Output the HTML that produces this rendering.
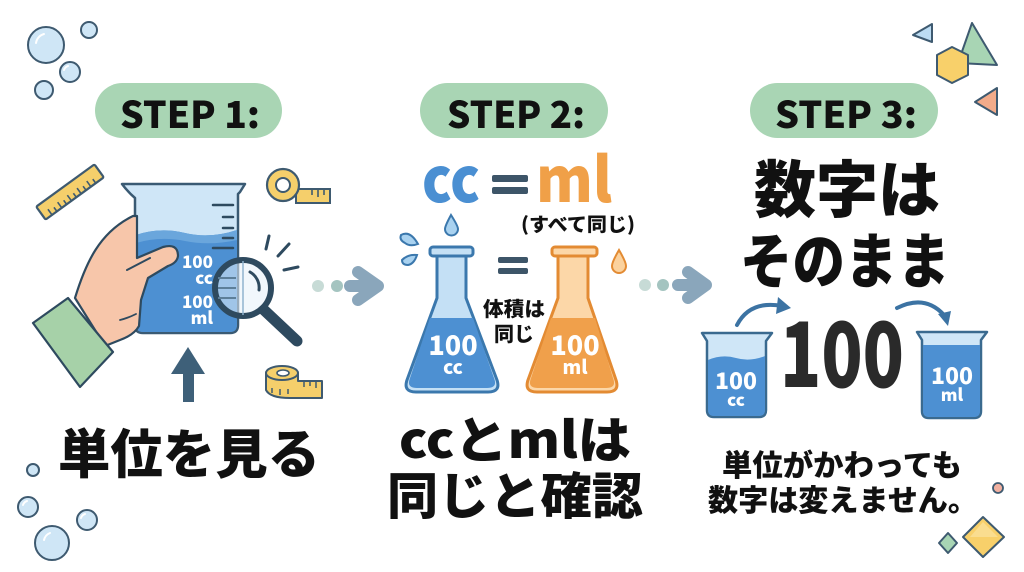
<!DOCTYPE html>
<html><head><meta charset="utf-8">
<style>
html,body{margin:0;padding:0;background:#ffffff;}
body{width:1024px;height:572px;overflow:hidden;}
svg{display:block;}
text{font-family:"Noto Sans CJK JP","Liberation Sans",sans-serif;font-weight:900;}
</style></head>
<body>
<svg width="1024" height="572" viewBox="0 0 1024 572" xmlns="http://www.w3.org/2000/svg">
<rect width="1024" height="572" fill="#ffffff"/>

<!-- bubbles -->
<g stroke="#3e5a70" stroke-width="2" fill="#cfe6f6">
<circle cx="46" cy="45" r="18"/><circle cx="89" cy="30" r="8"/><circle cx="70" cy="72" r="10"/><circle cx="44" cy="90" r="9"/>
<circle cx="33" cy="470" r="6"/><circle cx="28" cy="507" r="10"/><circle cx="87" cy="520" r="10"/><circle cx="52" cy="543" r="17"/>
</g>
<g stroke="#ffffff" stroke-width="2" fill="none" stroke-linecap="round">
<path d="M36,43 A11,11 0 0 1 44,34"/><path d="M44,540 A10,10 0 0 1 50,533"/><path d="M64,70 A6,6 0 0 1 68,66"/><path d="M81,518 A6,6 0 0 1 85,514"/><path d="M23,505 A6,6 0 0 1 27,501"/>
</g>

<!-- STEP pills -->
<rect x="95" y="83" width="187" height="55" rx="27.5" fill="#a9d5b4"/>
<rect x="420" y="83" width="188" height="55" rx="27.5" fill="#a9d5b4"/>
<rect x="750" y="83" width="188" height="55" rx="27.5" fill="#a9d5b4"/>
<text x="190" y="128" font-size="37" text-anchor="middle" fill="#111" textLength="140" lengthAdjust="spacingAndGlyphs">STEP 1:</text>
<text x="516" y="128" font-size="37" text-anchor="middle" fill="#111" textLength="138" lengthAdjust="spacingAndGlyphs">STEP 2:</text>
<text x="846" y="128" font-size="37" text-anchor="middle" fill="#111" textLength="142" lengthAdjust="spacingAndGlyphs">STEP 3:</text>

<!-- ruler -->
<g transform="translate(70,192) rotate(-36)">
<rect x="-36" y="-8" width="72" height="16" fill="#f5cf6b" stroke="#3e5a70" stroke-width="2.2" rx="1.5"/>
<g stroke="#3e5a70" stroke-width="1.6">
<line x1="-28" y1="8" x2="-28" y2="1"/><line x1="-22" y1="8" x2="-22" y2="3"/><line x1="-16" y1="8" x2="-16" y2="1"/><line x1="-10" y1="8" x2="-10" y2="3"/><line x1="-4" y1="8" x2="-4" y2="1"/><line x1="2" y1="8" x2="2" y2="3"/><line x1="8" y1="8" x2="8" y2="1"/><line x1="14" y1="8" x2="14" y2="3"/><line x1="20" y1="8" x2="20" y2="1"/><line x1="26" y1="8" x2="26" y2="3"/>
</g></g>

<!-- tape measure top -->
<rect x="296" y="189" width="34" height="14" fill="#f5cf6b" stroke="#3e5a70" stroke-width="2"/>
<g stroke="#3e5a70" stroke-width="1.6"><line x1="312" y1="189" x2="312" y2="195"/><line x1="318" y1="189" x2="318" y2="197"/><line x1="324" y1="189" x2="324" y2="195"/></g>
<circle cx="283" cy="185" r="16" fill="#f5cf6b" stroke="#3e5a70" stroke-width="2.2"/>
<circle cx="283" cy="185" r="7" fill="#ffffff" stroke="#3e5a70" stroke-width="2"/>

<!-- tape measure bottom -->
<path d="M266,373 L266,390 Q270,398 290,398 L322,398 L322,381 L298,381 L298,373 Z" fill="#f5cf6b" stroke="#3e5a70" stroke-width="2" stroke-linejoin="round"/>
<g stroke="#3e5a70" stroke-width="1.5"><line x1="272" y1="388" x2="272" y2="393"/><line x1="280" y1="389" x2="280" y2="395"/><line x1="288" y1="389" x2="288" y2="394"/><line x1="304" y1="381" x2="304" y2="387"/><line x1="310" y1="381" x2="310" y2="386"/><line x1="316" y1="381" x2="316" y2="388"/></g>
<ellipse cx="282" cy="373" rx="16" ry="7" fill="#f5cf6b" stroke="#3e5a70" stroke-width="2"/>
<ellipse cx="283" cy="373" rx="6" ry="3" fill="#fff" stroke="#3e5a70" stroke-width="1.6"/>

<!-- beaker step1 -->
<path d="M122,184 L245,184 L240,192 L238,194 L238,325 Q238,333 230,333 L143,333 Q135,333 135,325 L135,198 Q128,192 122,184 Z" fill="#cfe6f7" stroke="#3a5a73" stroke-width="2.5" stroke-linejoin="round"/>
<path d="M136,235 Q160,227 185,233 Q210,239 237,230 L237,325 Q237,332 230,332 L143,332 Q136,332 136,325 Z" fill="#4d90d2"/>
<path d="M136,235 Q160,227 185,233 Q210,239 237,230 L237,240 Q210,246 185,241 Q160,236 136,243 Z" fill="#6aa6dc"/>
<g stroke="#2e4a5f" stroke-width="2.5" stroke-linecap="round">
<line x1="213" y1="205" x2="233" y2="205"/><line x1="223" y1="217" x2="233" y2="217"/><line x1="223" y1="228" x2="233" y2="228"/><line x1="223" y1="238" x2="233" y2="238"/><line x1="213" y1="248" x2="233" y2="248"/>
</g>
<g fill="#ffffff" text-anchor="end">
<text x="213" y="268" font-size="17" font-weight="700">100</text>
<text x="213" y="284" font-size="17" font-weight="700">cc</text>
<text x="213" y="308" font-size="17" font-weight="700">100</text>
<text x="213" y="324" font-size="17" font-weight="700">ml</text>
</g>

<!-- magnifier -->
<line x1="264" y1="310" x2="297" y2="341" stroke="#2e4a5f" stroke-width="11" stroke-linecap="round"/>
<circle cx="243" cy="288" r="28" fill="#e6f1fa" fill-opacity="0.55" stroke="#2e4a5f" stroke-width="6"/>
<path d="M243,261 L243,315" stroke="#8fb3cf" stroke-width="1.5"/>
<g stroke="#5d7f99" stroke-width="2"><line x1="218" y1="278" x2="236" y2="278"/><line x1="218" y1="288" x2="236" y2="288"/><line x1="218" y1="298" x2="236" y2="298"/></g>
<path d="M250,272 A18,18 0 0 1 259,290" stroke="#2e4a5f" stroke-width="3" fill="none" stroke-linecap="round"/>
<g stroke="#2e4a5f" stroke-width="3" stroke-linecap="round">
<line x1="266" y1="249" x2="269" y2="236"/><line x1="278" y1="256" x2="289" y2="244"/><line x1="284" y1="270" x2="298" y2="267"/>
</g>

<!-- hand -->
<path d="M75,298 C86,262 100,232 133,216 L137,216 L137,258 L163,247 Q178,243 178,256 Q177,263 168,266 L148,278 L141,300 L139,326 Q134,335 120,340 L105,346 Z" fill="#f7c6aa" stroke="#2e4a5f" stroke-width="2.2" stroke-linejoin="round"/>
<path d="M127,270 L150,258" stroke="#2e4a5f" stroke-width="2" stroke-linecap="round"/>
<path d="M120,320 Q128,318 136,314" stroke="#2e4a5f" stroke-width="1.8" fill="none" stroke-linecap="round"/>
<polygon points="33,323 68,298 113,352 80,387" fill="#a6d1a8" stroke="#2e4a5f" stroke-width="2.2" stroke-linejoin="round"/>

<!-- up arrow -->
<polygon points="171,374 188,347 205,374" fill="#3e6079"/>
<rect x="183" y="372" width="11" height="30" fill="#3e6079"/>

<text x="189" y="473" font-size="53" text-anchor="middle" fill="#111" textLength="262" lengthAdjust="spacingAndGlyphs">単位を見る</text>

<!-- connector 1 -->
<circle cx="318" cy="286" r="6" fill="#c7dbd6"/><circle cx="337" cy="286" r="6" fill="#a4c4c0"/>
<path d="M350,286 L377,286 M358,272 L378,286 L358,300" stroke="#8aa6bb" stroke-width="12" stroke-linecap="round" stroke-linejoin="round" fill="none"/>

<!-- connector 2 -->
<circle cx="645" cy="285" r="6" fill="#c7dbd6"/><circle cx="663" cy="285" r="6" fill="#a4c4c0"/>
<path d="M678,285 L704,285 M688,272 L706,285 L688,298" stroke="#8aa6bb" stroke-width="12" stroke-linecap="round" stroke-linejoin="round" fill="none"/>

<!-- step 2: cc = ml -->
<text x="451" y="202" font-size="62" text-anchor="middle" fill="#4a8fd2" textLength="58" lengthAdjust="spacingAndGlyphs">cc</text>
<rect x="492" y="175" width="36" height="7" rx="2" fill="#3d5568"/>
<rect x="492" y="187" width="36" height="7" rx="2" fill="#3d5568"/>
<text x="574" y="202" font-size="62" text-anchor="middle" fill="#f0a048" textLength="76" lengthAdjust="spacingAndGlyphs">ml</text>
<text x="578" y="231" font-size="19" text-anchor="middle" fill="#111" textLength="114" lengthAdjust="spacingAndGlyphs">(すべて同じ)</text>

<!-- drops -->
<path d="M451,215 Q458,226 458,229 A6,6 0 0 1 445,229 Q445,226 451,215 Z" fill="#a9d2f0" stroke="#3b78ad" stroke-width="2"/>
<path d="M401,235 Q410,230 418,244 Q410,247 405,243 Q399,240 401,235 Z" fill="#a9d2f0" stroke="#3b78ad" stroke-width="2"/>
<path d="M402,260 Q408,254 417,255 Q414,264 408,265 Q402,265 402,260 Z" fill="#a9d2f0" stroke="#3b78ad" stroke-width="2"/>
<path d="M619,250 Q626,262 626,266 A7,7 0 0 1 612,266 Q612,262 619,250 Z" fill="#fbd29e" stroke="#e38b33" stroke-width="2"/>

<!-- blue flask -->
<path d="M437,255 L437,298 L407,380 Q403,392 416,392 L488,392 Q501,392 497,380 L466,298 L466,255 Z" fill="#c4e0f5" stroke="#3b78ad" stroke-width="3" stroke-linejoin="round"/>
<path d="M430,318 L473,318 L494,378 Q498,388 487,388 L417,388 Q406,388 410,378 Z" fill="#4d90d2"/>
<rect x="430" y="247" width="43" height="9" rx="3" fill="#c4e0f5" stroke="#3b78ad" stroke-width="3"/>
<text x="453" y="355" font-size="27" font-weight="700" text-anchor="middle" fill="#fff">100</text>
<text x="453" y="374" font-size="19" font-weight="700" text-anchor="middle" fill="#fff">cc</text>

<!-- orange flask -->
<path d="M558,255 L558,298 L528,380 Q524,392 537,392 L607,392 Q620,392 616,380 L588,298 L588,255 Z" fill="#fcd7a8" stroke="#e38b33" stroke-width="3" stroke-linejoin="round"/>
<path d="M551,318 L595,318 L613,378 Q617,388 606,388 L538,388 Q527,388 531,378 Z" fill="#f0a04b"/>
<rect x="552" y="247" width="45" height="9" rx="3" fill="#fcd7a8" stroke="#e38b33" stroke-width="3"/>
<text x="575" y="355" font-size="27" font-weight="700" text-anchor="middle" fill="#fff">100</text>
<text x="575" y="374" font-size="19" font-weight="700" text-anchor="middle" fill="#fff">ml</text>

<rect x="498" y="257" width="30" height="6" rx="2" fill="#3d5568"/>
<rect x="498" y="268" width="30" height="6" rx="2" fill="#3d5568"/>
<text x="514" y="316" font-size="20" text-anchor="middle" fill="#111" textLength="62" lengthAdjust="spacingAndGlyphs">体積は</text>
<text x="514" y="341" font-size="20" text-anchor="middle" fill="#111" textLength="40" lengthAdjust="spacingAndGlyphs">同じ</text>

<text x="515" y="458" font-size="50" text-anchor="middle" fill="#111" textLength="232" lengthAdjust="spacingAndGlyphs">ccとmlは</text>
<text x="515" y="514" font-size="50" text-anchor="middle" fill="#111" textLength="256" lengthAdjust="spacingAndGlyphs">同じと確認</text>

<!-- step 3 -->
<text x="847" y="212" font-size="62" text-anchor="middle" fill="#111" textLength="186" lengthAdjust="spacingAndGlyphs">数字は</text>
<text x="845" y="283" font-size="60" text-anchor="middle" fill="#111" textLength="210" lengthAdjust="spacingAndGlyphs">そのまま</text>

<!-- left beaker -->
<path d="M702,333 L772,333 L766,341 L766,410 Q766,417 759,417 L714,417 Q707,417 707,410 L707,341 Z" fill="#cfe6f7" stroke="#3a6a8f" stroke-width="2.5" stroke-linejoin="round"/>
<path d="M708,360 Q722,354 736,358 Q750,362 765,356 L765,410 Q765,416 759,416 L714,416 Q708,416 708,410 Z" fill="#4d90d2"/>
<text x="736" y="389" font-size="23" font-weight="700" text-anchor="middle" fill="#fff">100</text>
<text x="736" y="406" font-size="17" font-weight="700" text-anchor="middle" fill="#fff">cc</text>

<!-- right beaker -->
<path d="M917,332 L987,332 L981,340 L981,411 Q981,418 974,418 L929,418 Q922,418 922,411 L922,340 Z" fill="#cfe6f7" stroke="#3a6a8f" stroke-width="2.5" stroke-linejoin="round"/>
<path d="M923,345 L980,345 L980,411 Q980,417 974,417 L929,417 Q923,417 923,411 Z" fill="#4d90d2"/>
<text x="952" y="384" font-size="23" font-weight="700" text-anchor="middle" fill="#fff">100</text>
<text x="952" y="401" font-size="17" font-weight="700" text-anchor="middle" fill="#fff">ml</text>

<text x="842" y="387" font-size="90" text-anchor="middle" fill="#2a2a2a" textLength="124" lengthAdjust="spacingAndGlyphs">100</text>

<!-- curved arrows -->
<path d="M737,325 Q750,300 782,306" stroke="#3c73a3" stroke-width="4" fill="none" stroke-linecap="round"/>
<polygon points="778,297 791,308 776,314" fill="#3c73a3"/>
<path d="M897,308 Q925,294 944,315" stroke="#3c73a3" stroke-width="4" fill="none" stroke-linecap="round"/>
<polygon points="938,314 951,311 948,326" fill="#3c73a3"/>

<text x="842" y="476" font-size="30" text-anchor="middle" fill="#111" textLength="240" lengthAdjust="spacingAndGlyphs">単位がかわっても</text>
<text x="843" y="511" font-size="30" text-anchor="middle" fill="#111" textLength="270" lengthAdjust="spacingAndGlyphs">数字は変えません。</text>

<!-- top-right shapes -->
<polygon points="932,24 913,35 932,42" fill="#bcdcf3" stroke="#3e5a70" stroke-width="2" stroke-linejoin="round"/>
<polygon points="972,23 997,65 958,63" fill="#a8d5b4" stroke="#3e5a70" stroke-width="2" stroke-linejoin="round"/>
<polygon points="952,47 968,55 968,75 952,83 937,75 937,55" fill="#f8d06a" stroke="#3e5a70" stroke-width="2" stroke-linejoin="round"/>
<polygon points="997,88 975,102 997,115" fill="#f2ab8a" stroke="#3e5a70" stroke-width="2" stroke-linejoin="round"/>

<!-- bottom-right shapes -->
<circle cx="998" cy="488" r="5" fill="#f0b0a0" stroke="#3e5a70" stroke-width="1.8"/>
<polygon points="948,533 957,543 948,553 939,543" fill="#a8d5b4" stroke="#3e5a70" stroke-width="2" stroke-linejoin="round"/>
<polygon points="983,517 1004,537 983,557 963,537" fill="#f8d06a" stroke="#3e5a70" stroke-width="2" stroke-linejoin="round"/>
<polygon points="983,522 998,537 983,537 970,537" fill="#fbe6a8" opacity="0.6"/>
</svg>
</body></html>
